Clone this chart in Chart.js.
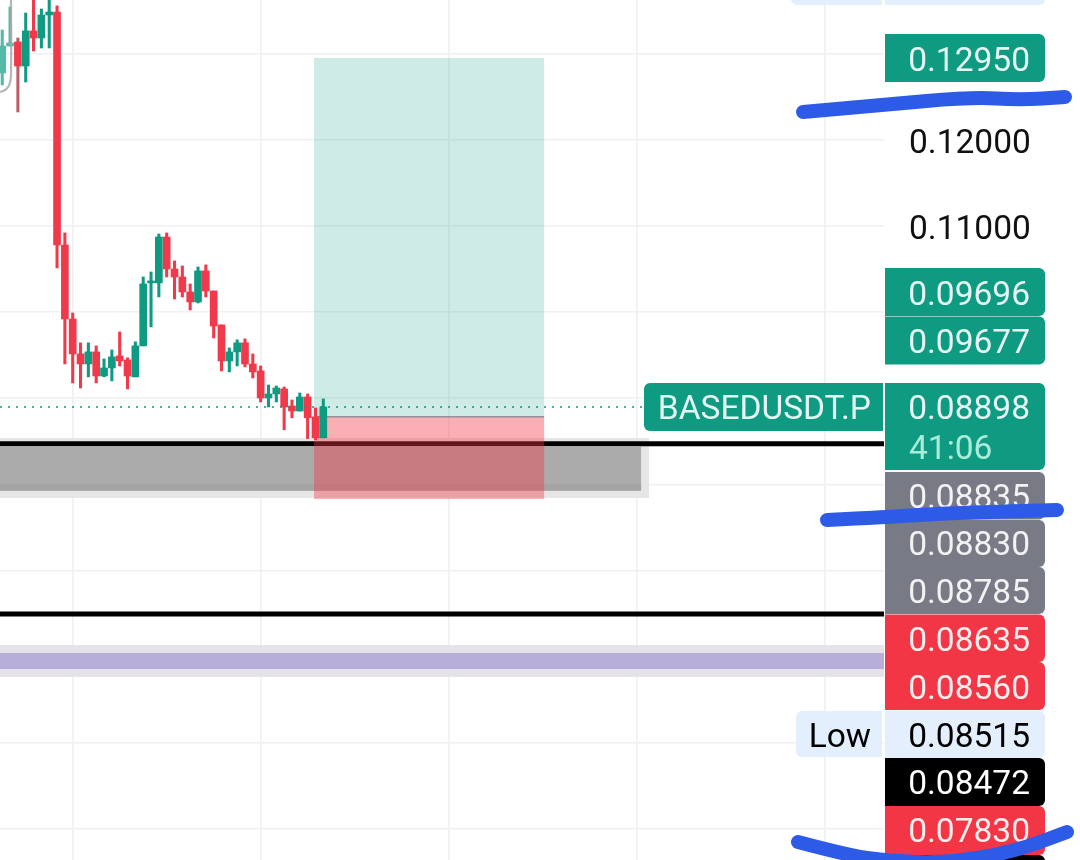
<!DOCTYPE html>
<html><head><meta charset="utf-8">
<style>html,body{margin:0;padding:0;background:#fff}canvas{display:block}</style>
<script src="https://cdn.jsdelivr.net/npm/chart.js@4"></script>
</head><body><canvas id="c" width="1080" height="860"></canvas>
<script>
// ---- candle data (first candle index = -9, gridlines fall every 24 candles)
const firstIndex = -9;
const opens  = [.12775,.13088,.13135,.12856,.13263,.13181,.13448,.13483,.10778,.09919,.09514,.09397,.09537,.09258,.09351,.09490,.09444,.09247,.09607,.10338,.10338,.10871,.10500,.10407,.10233,.10117,.10477,.10244,.09850,.09432,.09537,.09642,.09397,.09316,.09002,.09049,.09107,.08909,.08851,.09014,.08783,.08540];
const closes = [.13088,.13123,.12856,.13263,.13181,.13448,.13483,.10778,.09919,.09514,.09397,.09537,.09258,.09351,.09479,.09432,.09258,.09607,.10326,.10361,.10871,.10500,.10407,.10233,.10117,.10477,.10244,.09838,.09432,.09537,.09642,.09397,.09305,.09002,.09049,.09118,.08898,.08851,.09014,.08772,.08540,.08898];
const highs  = [.13274,.13541,.13181,.13471,.13738,.13518,.13680,.13553,.10918,.09989,.09642,.09642,.09607,.09456,.09560,.09769,.09468,.09654,.10407,.10465,.10906,.10918,.10593,.10535,.10326,.10523,.10547,.10244,.09850,.09583,.09677,.09688,.09514,.09374,.09153,.09142,.09130,.08979,.09060,.09049,.08886,.08991];
const lows   = [.12636,.13088,.12322,.12670,.13030,.13065,.13065,.10512,.09397,.09177,.09118,.09247,.09177,.09247,.09200,.09374,.09107,.09247,.09607,.09827,.10175,.10407,.10151,.10175,.10024,.10105,.10175,.09699,.09316,.09305,.09374,.09363,.09235,.08956,.08898,.08956,.08633,.08772,.08851,.08529,.08517,.08540];

// ---- drawn levels and zones
const tpLevel = .1295, entryLevel = .08785, stopLevel = .0783;
const positionFrom = 30.82, positionTo = 60.2;
const supportLevel = .08472, lowerLevel = .06495, lastPrice = .08898;
const grayOuter = [.07842,.08538], grayInner = [.07923,.08434], grayEdge = [.07934,.08004];
const grayOuterEnd = 73.6, grayInnerEnd = 72.58;
const purpleOuter = [.05764,.06135], purpleInner = [.05856,.06042];
const priceLabels = ['0.12000','0.11000'];
const trailX = [-7.88,-7.88,-8.1,-8.6,-9.285];
const trailY = [.1368,.12741,.12636,.12578,.12554];

// ---- price tags on the axis
const tagTexts = ['','0.12950','0.09696','0.09677','0.08898','0.08835','0.08830','0.08785','0.08635','0.08560','0.08515','0.08472','0.07830',''];

const RED='#f0394a', TEAL='#0f9a82';
const xMin=-9.285, xMax=103.6;
const yTop=.13622, yBottom=.03639;

const idx=opens.map((_,i)=>i+firstIndex);
const colours=opens.map((o,i)=>{
  const c=closes[i]>=o?TEAL:RED;
  if(i<2) return '#55b9a8';
  return c;
});
const wickColours=colours.map((c,i)=>i===2?'#c25a66':c);

function rr(ctx,x,y,w,h,radii){ctx.beginPath();ctx.roundRect(x,y,w,h,radii);ctx.fill();}

const zones={id:'zones',
  beforeDatasetsDraw(ch){
    const {ctx,scales:{x,y},chartArea:a}=ch;
    const band=(from,to,range,col)=>{ctx.fillStyle=col;const t=y.getPixelForValue(range[1]),b=y.getPixelForValue(range[0]);
      ctx.fillRect(x.getPixelForValue(from),t,x.getPixelForValue(to)-x.getPixelForValue(from),b-t);};
    ctx.save();
    ctx.beginPath();ctx.rect(a.left,a.top,a.width,a.height);ctx.clip();
    band(xMin,grayOuterEnd,grayOuter,'#e6e6e6');
    band(xMin,grayInnerEnd,grayInner,'#ababab');
    band(xMin,grayInnerEnd,grayEdge,'#a4a4a4');
    band(xMin,xMax,purpleOuter,'#e5e3e7');
    band(xMin,xMax,purpleInner,'#b7afd9');
    ctx.restore();
  },
  beforeDatasetDraw(ch,args){
    if(ch.data.datasets[args.index].label!=='wicks') return;
    const {ctx,scales:{x,y}}=ch;
    const l=x.getPixelForValue(positionFrom),r=x.getPixelForValue(positionTo);
    const t=y.getPixelForValue(tpLevel),m=y.getPixelForValue(entryLevel),b=y.getPixelForValue(stopLevel);
    ctx.save();
    ctx.fillStyle='rgba(8,153,129,0.2)';ctx.fillRect(l,t,r-l,m-t);
    ctx.fillStyle='rgba(242,54,69,0.4)';ctx.fillRect(l,m,r-l,b-m);
    ctx.strokeStyle='rgba(120,123,134,0.75)';ctx.lineWidth=1.5;
    ctx.beginPath();ctx.moveTo(l,m);ctx.lineTo(r,m);ctx.stroke();
    ctx.restore();
  },
  afterDraw(ch){
    const {ctx}=ch;
    ctx.save();
    // tag layout: [top, height, fill, text colour, text centre]
    const G='#0f9a82',S='#787b86',R='#f23645',L='#e3effd',K='#000000';
    const layout=[[-42,47,L,'#000',-18],[34,48,G,'#e6f7f3',59],[268,48,G,'#e6f7f3',293],[316.5,48,G,'#e6f7f3',341],
      [383,87,G,'#e6f7f3',407],[472,47.5,S,'#f2f2f4',496],[520,47,S,'#f2f2f4',543],[567,47,S,'#f2f2f4',591],
      [614.5,47.5,R,'#fdeeee',639],[662,48,R,'#fdeeee',687],[711,47,L,'#000000',735],[758,48,K,'#ffffff',782],
      [806,49,R,'#fdeeee',830],[855,50,K,'#fff',880]];
    ctx.font='33.5px Roboto';ctx.textBaseline='middle';ctx.textAlign='right';
    layout.forEach((t,i)=>{
      ctx.fillStyle=t[2];rr(ctx,885,t[0],160,t[1],[0,6,6,0]);
      if(tagTexts[i]){ctx.fillStyle=t[3];ctx.fillText(tagTexts[i],1030,t[4]+3.5);}
    });
    ctx.textAlign='left';ctx.fillStyle='#a9ecd9';ctx.fillText('41:06',909,450.5);
    // symbol and Low captions
    ctx.fillStyle=G;rr(ctx,644,383,239,48,[6,0,0,6]);
    ctx.fillStyle='#e6f7f3';ctx.textAlign='right';ctx.fillText('BASEDUSDT.P',871,411);
    ctx.fillStyle=L;rr(ctx,796,711,86,46,[6,0,0,6]);
    ctx.fillStyle='#000';ctx.fillText('Low',871,738.5);
    ctx.fillStyle=L;rr(ctx,791,-42,91,47,[6,0,0,6]);
    // hand-drawn marker strokes
    const strokes=[
      [[803,112],[880,105],[973,97],[1020,100],[1065,97]],
      [[827,520],[887,517],[953,513],[1057,510]],
      [[798,842],[847,855],[887,861],[947,863],[1013,852],[1067,832]]];
    ctx.strokeStyle='#2d5be8';ctx.lineWidth=14;ctx.lineCap='round';ctx.lineJoin='round';
    strokes.forEach(p=>{
      ctx.beginPath();ctx.moveTo(p[0][0],p[0][1]);
      for(let i=1;i<p.length-1;i++){
        ctx.quadraticCurveTo(p[i][0],p[i][1],(p[i][0]+p[i+1][0])/2,(p[i][1]+p[i+1][1])/2);
      }
      const e=p[p.length-1];ctx.lineTo(e[0],e[1]);ctx.stroke();
    });
    ctx.restore();
  }
};

const hline=(v,to,col,w,extra)=>Object.assign({type:'line',label:'level',
  data:[{x:xMin,y:v},{x:to,y:v}],borderColor:col,borderWidth:w,pointRadius:0,order:6},extra||{});

new Chart(document.getElementById('c'),{
  type:'bar',
  data:{datasets:[
    hline(supportLevel,xMax,'#000',5),
    hline(lowerLevel,xMax,'#000',5),
    {label:'wicks',data:idx.map((x,i)=>({x,y:[lows[i],highs[i]]})),backgroundColor:wickColours,barThickness:2.4,order:4},
    {label:'bodies',data:idx.map((x,i)=>({x,y:[opens[i],closes[i]]})),backgroundColor:colours,barThickness:7,order:3},
    hline(lastPrice,73,'#089981',1.5,{borderDash:[2,6],order:2,label:'last'}),
    {type:'line',label:'trail',data:trailX.map((x,i)=>({x,y:trailY[i]})),borderColor:'rgba(165,170,170,.85)',borderWidth:2.2,pointRadius:0,tension:.3,order:1}
  ]},
  options:{
    responsive:false,animation:false,devicePixelRatio:1,
    layout:{padding:0},
    datasets:{bar:{grouped:false,borderWidth:0}},
    plugins:{legend:{display:false},tooltip:{enabled:false},title:{display:false}},
    scales:{
      x:{type:'linear',min:xMin,max:xMax,offset:false,position:'bottom',
        afterFit(s){s.height=0;s.paddingLeft=0;s.paddingRight=0;s.paddingTop=0;s.paddingBottom=0;},
        grid:{offset:false,color:'#eff0f4',lineWidth:1.6,drawTicks:false},border:{display:false},
        ticks:{display:false,stepSize:24,includeBounds:false}},
      y:{type:'linear',position:'right',min:yBottom,max:yTop,
        afterFit(s){s.width=196;s.paddingTop=0;s.paddingBottom=0;s.paddingLeft=0;s.paddingRight=0;},
        grid:{color:'#eff0f4',lineWidth:1.6,drawTicks:false},border:{display:false},
        ticks:{stepSize:.01,includeBounds:false,padding:25,color:'#111',font:{family:'Roboto',size:33.5,lineHeight:.3},
          autoSkip:false,
          callback(v){const s=Number(v).toFixed(5);return priceLabels.includes(s)?['',s]:'';}}}
    }
  },
  plugins:[zones]
});
</script></body></html>
